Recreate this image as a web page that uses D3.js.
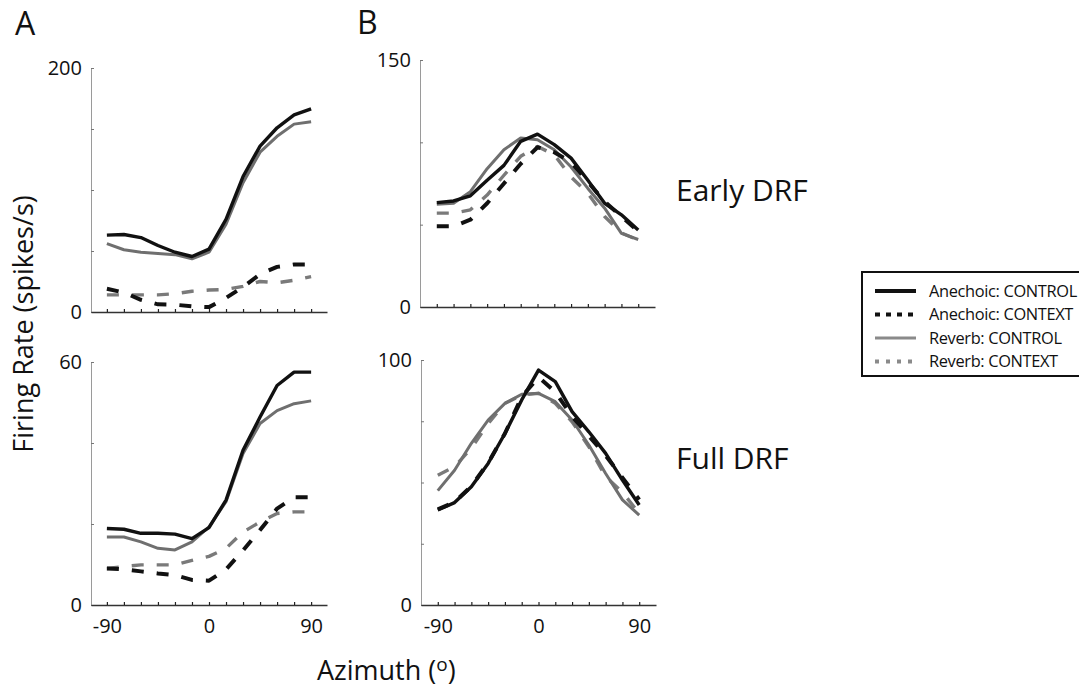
<!DOCTYPE html>
<html>
<head>
<meta charset="utf-8">
<script src="https://cdn.jsdelivr.net/npm/d3@7"></script>
<style>
  body { margin: 0; background: #fff; }
  text { font-family: "Open Sans", "DejaVu Sans", sans-serif; fill: #111; }
</style>
</head>
<body>
<script>
// azimuths (deg) shared by every curve
const azimuth = [-90, -75, -60, -45, -30, -15, 0, 15, 30, 45, 60, 75, 90];

// panel A, top row (0-200 spikes/s)
const aTopAneControl = [63, 63.5, 61, 54.5, 49, 45.5, 51.5, 76, 111, 136, 151, 161.5, 166.5];
const aTopAneContext = [19, 16, 10, 6.3, 6, 4.6, 4, 11.5, 20.5, 31, 37, 39, 39];
const aTopRevControl = [56, 51, 49, 48, 47, 43.6, 49, 72, 106, 131, 144, 154, 156];
const aTopRevContext = [14, 14, 14, 14, 15, 17, 18, 18.5, 21, 25, 24, 26, 29];

// panel A, bottom row (0-60 spikes/s)
const aBotAneControl = [18.9, 18.7, 17.7, 17.7, 17.5, 16.4, 19.1, 25.9, 38.2, 46.4, 54.2, 57.5, 57.5];
const aBotAneContext = [9, 8.8, 8.3, 7.8, 7.4, 6.2, 6, 8.8, 13.5, 18.5, 23.8, 26.6, 26.6];
const aBotRevControl = [16.8, 16.8, 15.6, 14, 13.6, 15.6, 19.3, 25.5, 37.4, 44.8, 48, 49.7, 50.4];
const aBotRevContext = [9, 9.5, 9.9, 9.9, 9.9, 11, 12, 14, 18, 20.5, 22.6, 23, 23];

// panel B, top row: Early DRF (0-150)
const bTopAneControl = [63.4, 64.4, 67.5, 77, 86, 100.6, 105, 98.6, 90.4, 77, 63, 56, 46.7];
const bTopAneContext = [49, 49, 53, 63, 75, 87, 97, 94, 88, 76, 64, 55, 46];
const bTopRevControl = [62.4, 63, 70, 84, 95.5, 102.6, 101.6, 95.5, 85, 72, 60, 44.7, 41];
const bTopRevContext = [57, 57, 59, 68, 80, 91.5, 97.5, 92.5, 79, 69, 55, 45, 40.6];

// panel B, bottom row: Full DRF (0-100)
const bBotAneControl = [38.8, 41.8, 48.3, 57.8, 70, 83.7, 95.9, 91.2, 78.9, 70.7, 61.9, 51, 40.8];
const bBotAneContext = [39, 42, 48.5, 58, 70, 85, 93, 87, 77, 69, 61, 52, 43];
const bBotRevControl = [46.7, 55, 66, 75.5, 82.3, 86, 86.4, 83, 75.5, 65.3, 53.7, 42.9, 36.7];
const bBotRevContext = [53, 56.5, 64, 74, 82.3, 85.7, 86.4, 82.3, 74.8, 64.6, 52.4, 46, 37.4];

const legendLabels = ['Anechoic: CONTROL', 'Anechoic: CONTEXT', 'Reverb: CONTROL', 'Reverb: CONTEXT'];

// line styles, same order as legendLabels
const styles = [
    {stroke: '#111', width: 3.4, dash: null},
    {stroke: '#111', width: 4, dash: '12,13'},
    {stroke: '#6f6f6f', width: 3, dash: null},
    {stroke: '#7a7a7a', width: 3.4, dash: '12,13'}
];

const panels = [
    {left: 91, right: 327, top: 68, bottom: 312, yMax: 200, yStep: 50, xDom: [-104, 104], showX: false,
     series: [aTopAneControl, aTopAneContext, aTopRevControl, aTopRevContext]},
    {left: 91, right: 327, top: 362, bottom: 605, yMax: 60, yStep: 20, xDom: [-104, 104], showX: true,
     series: [aBotAneControl, aBotAneContext, aBotRevControl, aBotRevContext]},
    {left: 420, right: 655, top: 60, bottom: 307, yMax: 150, yStep: 50, xDom: [-105, 105], showX: false,
     series: [bTopAneControl, bTopAneContext, bTopRevControl, bTopRevContext]},
    {left: 421, right: 656, top: 360, bottom: 605, yMax: 100, yStep: 25, xDom: [-105, 105], showX: true,
     series: [bBotAneControl, bBotAneContext, bBotRevControl, bBotRevContext]}
];

const svg = d3.select('body').append('svg')
    .attr('width', 1079)
    .attr('height', 689);

function drawPanel(p) {
    const x = d3.scaleLinear().domain(p.xDom).range([p.left, p.right]);
    const y = d3.scaleLinear().domain([0, p.yMax]).range([p.bottom, p.top]);
    const g = svg.append('g');

    const yAxis = g.append('g')
        .attr('transform', `translate(${p.left},0)`)
        .call(d3.axisLeft(y)
            .tickValues(d3.range(0, p.yMax + 1, p.yStep))
            .tickSizeInner(-3).tickSizeOuter(0).tickPadding(9)
            .tickFormat(d => (d === 0 || d === p.yMax) ? d : ''));
    yAxis.select('.domain').attr('stroke', '#9a9a9a').attr('stroke-width', 1);
    yAxis.selectAll('.tick line').attr('stroke', '#777');
    yAxis.selectAll('text').attr('font-size', '20px').attr('font-family', '"Open Sans", sans-serif').attr('fill', '#111');

    const xAxis = g.append('g')
        .attr('transform', `translate(0,${p.bottom})`)
        .call(d3.axisBottom(x)
            .tickValues(azimuth)
            .tickSizeInner(-3).tickSizeOuter(0).tickPadding(14)
            .tickFormat(d => (p.showX && (d === -90 || d === 0 || d === 90)) ? d : ''));
    xAxis.select('.domain').attr('stroke', '#333').attr('stroke-width', 1.4);
    xAxis.selectAll('.tick line').attr('stroke', '#222').attr('stroke-width', 1.2);
    xAxis.selectAll('text').attr('font-size', '20px').attr('font-family', '"Open Sans", sans-serif').attr('fill', '#111');

    const line = d3.line()
        .x((d, i) => x(azimuth[i]))
        .y(d => y(d));

    // grey curves underneath, black on top
    [3, 2, 1, 0].forEach(k => {
        const s = styles[k];
        g.append('path')
            .datum(p.series[k])
            .attr('d', line)
            .attr('fill', 'none')
            .attr('stroke', s.stroke)
            .attr('stroke-width', s.width)
            .attr('stroke-dasharray', s.dash)
            .attr('stroke-linejoin', 'round');
    });
}

panels.forEach(drawPanel);

// panel letters and row titles
svg.append('text').text('A').attr('x', 15).attr('y', 35).attr('font-size', '32px');
svg.append('text').text('B').attr('x', 357).attr('y', 34).attr('font-size', '32px');
svg.append('text').text('Early DRF').attr('x', 676).attr('y', 201).attr('font-size', '30px');
svg.append('text').text('Full DRF').attr('x', 676).attr('y', 469).attr('font-size', '30px');

// axis titles
svg.append('text')
    .text('Firing Rate (spikes/s)')
    .attr('text-anchor', 'middle')
    .attr('transform', 'translate(33,324) rotate(-90)')
    .attr('font-size', '27px');

const az = svg.append('text').attr('x', 317).attr('y', 680).attr('font-size', '27px');
az.append('tspan').text('Azimuth (');
az.append('tspan').text('o').attr('font-size', '19px').attr('dy', -9);
az.append('tspan').text(')').attr('dy', 9);

// legend
const legend = svg.append('g').attr('transform', 'translate(862,272)');
legend.append('rect')
    .attr('width', 240).attr('height', 104)
    .attr('fill', '#fff').attr('stroke', '#111').attr('stroke-width', 2);
const legendDash = ['', '5,6', '', '4,7'];
legendLabels.forEach((lab, i) => {
    const yy = 19 + i * 23.5;
    legend.append('line')
        .attr('x1', 13).attr('x2', 54).attr('y1', yy).attr('y2', yy)
        .attr('stroke', i < 2 ? '#111' : '#8a8a8a')
        .attr('stroke-width', i === 2 ? 3 : 4)
        .attr('stroke-dasharray', legendDash[i] || null);
    legend.append('text')
        .text(lab)
        .attr('x', 67).attr('y', yy)
        .attr('dy', '0.35em')
        .attr('font-size', '16.4px')
        .attr('letter-spacing', '-0.35px');
});
</script>
</body>
</html>
